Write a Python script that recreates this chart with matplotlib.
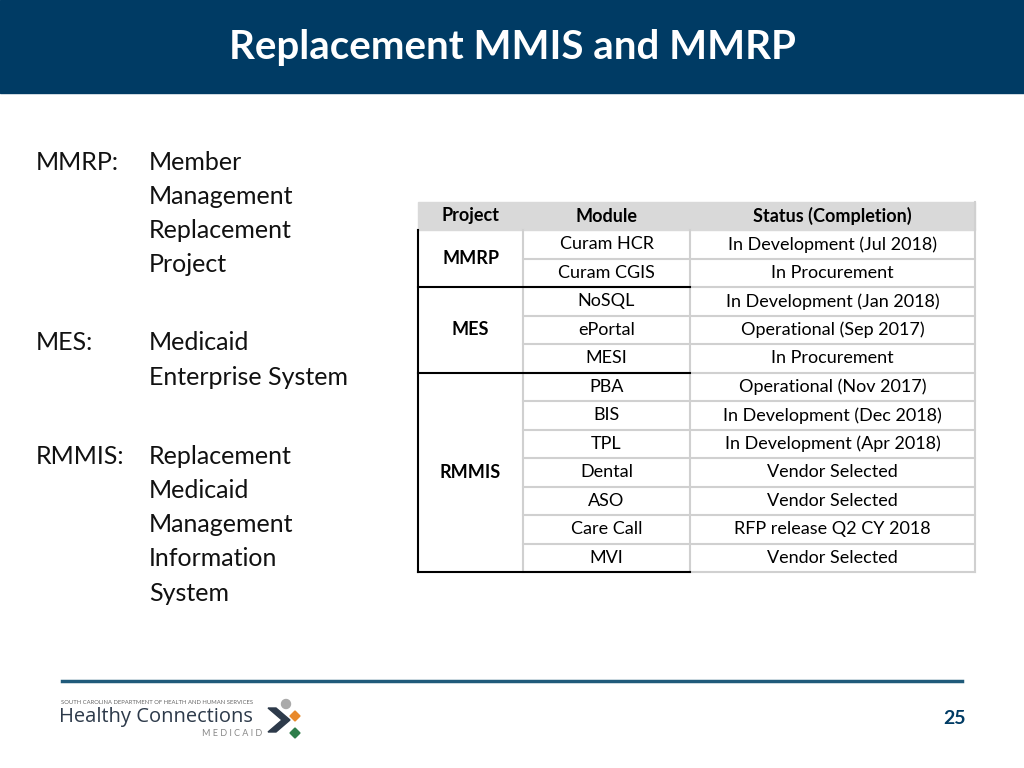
import matplotlib.pyplot as plt
from matplotlib.patches import Rectangle, Polygon, Circle

# table data
projects = ["MMRP", "MES", "RMMIS"]
project_rows = [2, 3, 7]
modules = ["Curam HCR", "Curam CGIS", "NoSQL", "ePortal", "MESI", "PBA", "BIS",
           "TPL", "Dental", "ASO", "Care Call", "MVI"]
statuses = ["In Development (Jul 2018)", "In Procurement", "In Development (Jan 2018)",
            "Operational (Sep 2017)", "In Procurement", "Operational (Nov 2017)",
            "In Development (Dec 2018)", "In Development (Apr 2018)", "Vendor Selected",
            "Vendor Selected", "RFP release Q2 CY 2018", "Vendor Selected"]
headers = ["Project", "Module", "Status (Completion)"]

left_terms = ["MMRP:", "MES:", "RMMIS:"]
left_defs = [["Member", "Management", "Replacement", "Project"],
             ["Medicaid", "Enterprise System"],
             ["Replacement", "Medicaid", "Management", "Information", "System"]]

plt.rcParams["font.family"] = "Lato"
fig = plt.figure(figsize=(10.24, 7.68), dpi=100)
ax = fig.add_axes([0, 0, 1, 1])
ax.set_xlim(0, 1024)
ax.set_ylim(768, 0)
ax.axis("off")

navy = "#003b64"
ax.add_patch(Rectangle((0, 0), 1024, 93, color=navy))
ax.text(512, 48, "Replacement MMIS and MMRP", color="white", fontsize=29,
        fontweight="bold", ha="center", va="center")

# left definitions
line_h = 34.3
tops = [162, 343, 456]
for term, lines, y0 in zip(left_terms, left_defs, tops):
    ax.text(36, y0, term, fontsize=18, va="center", color="#111111")
    for i, l in enumerate(lines):
        ax.text(149, y0 + i * line_h, l, fontsize=18, va="center", color="#111111")

# table
cx = [418, 523, 690, 975]
y_head = 202
row_h = (572 - 230) / len(modules)
y0 = 230
gray = "#d0d0d0"
ax.add_patch(Rectangle((cx[0], y_head), cx[3] - cx[0], y0 - y_head, color="#d9d9d9"))
for j, h in enumerate(headers):
    ax.text((cx[j] + cx[j + 1]) / 2, (y_head + y0) / 2, h, fontsize=13,
            fontweight="bold", ha="center", va="center")
for i, (m, s) in enumerate(zip(modules, statuses)):
    yc = y0 + (i + 0.5) * row_h
    ax.text((cx[1] + cx[2]) / 2, yc, m, fontsize=13, ha="center", va="center")
    ax.text((cx[2] + cx[3]) / 2, yc, s, fontsize=13, ha="center", va="center")
    yl = y0 + (i + 1) * row_h
    ax.plot([cx[1], cx[3]], [yl, yl], color=gray, lw=1.5)
for x in [cx[1], cx[2], cx[3]]:
    ax.plot([x, x], [y0, 572], color=gray, lw=1.5)
ax.plot([cx[3], cx[3]], [y_head, y0], color=gray, lw=1.5)

start = 0
for p, n in zip(projects, project_rows):
    ya = y0 + start * row_h
    yb = y0 + (start + n) * row_h
    ax.text((cx[0] + cx[1]) / 2, (ya + yb) / 2, p, fontsize=13,
            fontweight="bold", ha="center", va="center")
    ax.plot([cx[0], cx[2]], [yb, yb], color="black", lw=1.5)
    start += n
ax.plot([cx[0], cx[0]], [y0, 572], color="black", lw=1.5)

# footer
ax.plot([62, 962], [681, 681], color="#1f5a7a", lw=2.5)
ax.text(61, 702, "SOUTH CAROLINA DEPARTMENT OF HEALTH AND HUMAN SERVICES",
        fontsize=4.2, color="#666666", va="center")
ax.text(59, 717, "Healthy Connections", fontsize=14.5, color="#2d3a4a", va="center",
        family="Open Sans")
ax.text(262, 733, "M E D I C A I D", fontsize=6.5, color="#888888", va="center", ha="right")
ax.add_patch(Polygon([[268, 708], [276, 708], [290, 720], [276, 732], [268, 732],
                      [282, 720]], color="#2d3a4a"))
ax.add_patch(Circle((286, 704), 4.5, color="#aaaaaa"))
ax.add_patch(Polygon([[295, 711], [300, 716], [295, 721], [290, 716]], color="#e8892b"))
ax.add_patch(Polygon([[295, 728], [300, 733], [295, 738], [290, 733]], color="#2e7d4a"))
ax.text(954, 719, "25", fontsize=14, fontweight="bold", color=navy,
        ha="center", va="center")

fig.savefig("out.png", dpi=100)
